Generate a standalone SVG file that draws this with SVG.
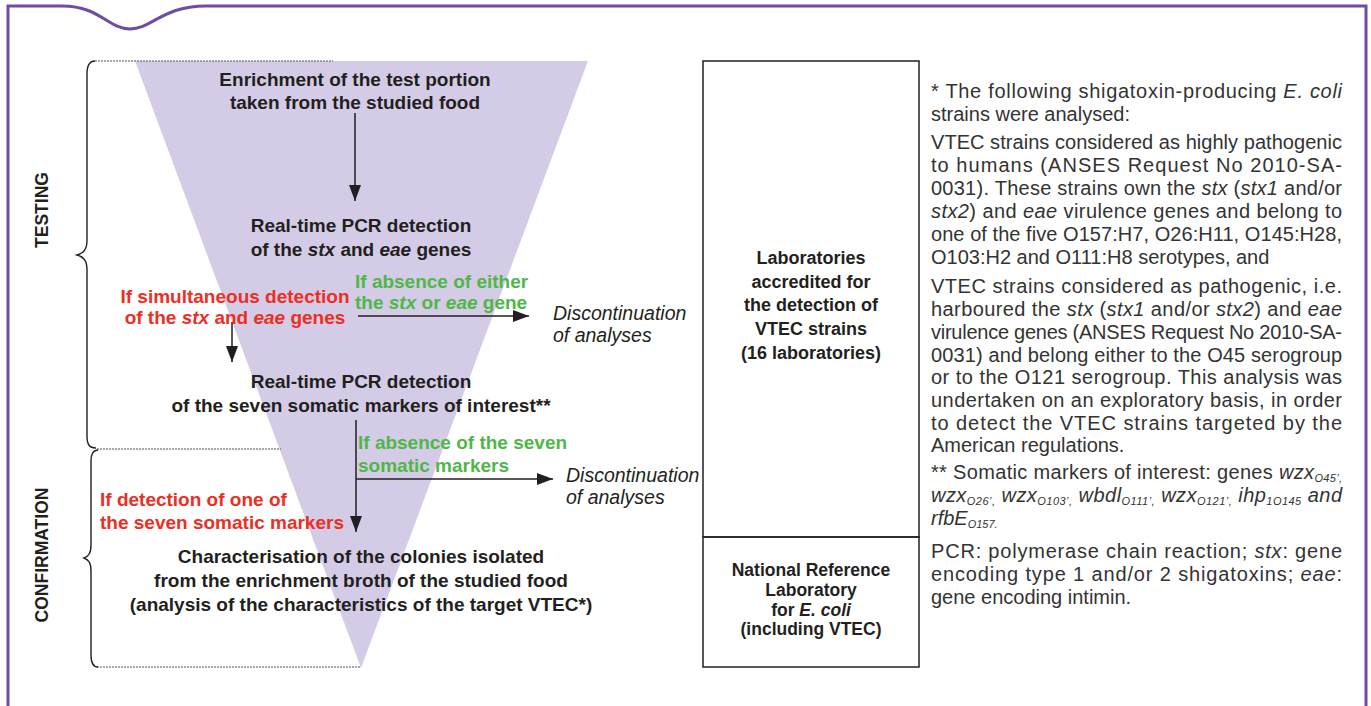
<svg xmlns="http://www.w3.org/2000/svg" width="1371" height="706" viewBox="0 0 1371 706">
<defs>
<marker id="ah" viewBox="0 0 16 12" markerUnits="userSpaceOnUse" markerWidth="16" markerHeight="12" refX="16" refY="6" orient="auto">
<path d="M0,0 L16,6 L0,12 z" fill="#231f20"/>
</marker>
</defs>
<style>
.b{font-family:"Liberation Sans",Arial,sans-serif;font-weight:bold;font-size:19px;fill:#231f20}
.bx{font-family:"Liberation Sans",Arial,sans-serif;font-weight:bold;font-size:18px;fill:#231f20;text-anchor:middle}
.bs{font-size:17.5px}
.red{fill:#ee2e24}
.grn{fill:#4fb747}
.it{font-style:italic}
.dis{font-family:"Liberation Sans",Arial,sans-serif;font-style:italic;font-size:19.5px;fill:#231f20}
.m{text-anchor:middle}
.side{font-family:"Liberation Sans",Arial,sans-serif;font-weight:bold;font-size:17.5px;fill:#231f20;text-anchor:middle;dominant-baseline:central}
.r{font-family:"Liberation Sans",Arial,sans-serif;font-size:20px;fill:#333333}
.sub{font-size:11px}
.dot{stroke:#555;stroke-width:1;stroke-dasharray:2 1;fill:none}
.brace{stroke:#231f20;stroke-width:1.4;fill:none}
.conn{stroke:#231f20;stroke-width:1.5;fill:none}
</style>
<g id="frame">
<path d="M8,706 L8,6 L62,6 C100,6 108,29 130,29 C152,29 162,6 206,6 L1366,6 L1366,706" fill="none" stroke="#6f4ba3" stroke-width="3"/>
</g>
<g id="funnel">
<polygon points="135,61 588,61 361,668" fill="#d4cce6"/>
</g>
<g id="brackets">
<path class="dot" d="M95,61 L333,61"/>
<path class="dot" d="M97,449 L281,449"/>
<path class="dot" d="M97,667 L361,667"/>
<path class="brace" d="M95,61 C89,61 87,66 87,74 L87,240 C87,249 84,253 77,255 C84,257 87,261 87,270 L87,436 C87,444 89,448 96,448"/>
<path class="brace" d="M98,450 C93,450 91,454 91,461 L91,545 C91,553 89,556 84,558 C89,560 91,563 91,571 L91,655 C91,662 93,667 98,667"/>
<text class="side" transform="translate(42,210) rotate(-90)">TESTING</text>
<text class="side" transform="translate(42,555) rotate(-90)">CONFIRMATION</text>
</g>
<g id="connectors">
<line class="conn" x1="355" y1="113" x2="355" y2="201" marker-end="url(#ah)"/>
<line class="conn" x1="358" y1="316" x2="529" y2="316" marker-end="url(#ah)"/>
<line class="conn" x1="232" y1="322" x2="232" y2="362" marker-end="url(#ah)"/>
<line class="conn" x1="356" y1="420" x2="356" y2="532" marker-end="url(#ah)"/>
<line class="conn" x1="356" y1="479" x2="553" y2="479" marker-end="url(#ah)"/>
</g>
<g id="n-enrichment">
<text class="b m" x="355" y="86">Enrichment of the test portion</text>
<text class="b m" x="355" y="109">taken from the studied food</text>
</g>
<g id="n-pcr1">
<text class="b m" x="361" y="232">Real-time PCR detection</text>
<text class="b m" x="361" y="256">of the <tspan class="it">stx</tspan> and <tspan class="it">eae</tspan> genes</text>
</g>
<g id="n-absence1">
<text class="b grn" x="355" y="287.5">If absence of either</text>
<text class="b grn" x="355" y="309">the <tspan class="it">stx</tspan> or <tspan class="it">eae</tspan> gene</text>
</g>
<g id="n-simul">
<text class="b red m" x="235" y="302.5">If simultaneous detection</text>
<text class="b red m" x="235" y="324">of the <tspan class="it">stx</tspan> and <tspan class="it">eae</tspan> genes</text>
</g>
<g id="n-disc1">
<text class="dis" x="553" y="320">Discontinuation</text>
<text class="dis" x="553" y="342">of analyses</text>
</g>
<g id="n-pcr2">
<text class="b m" x="361" y="388">Real-time PCR detection</text>
<text class="b m" x="361" y="412">of the seven somatic markers of interest**</text>
</g>
<g id="n-absence2">
<text class="b grn" x="358" y="449">If absence of the seven</text>
<text class="b grn" x="358" y="472">somatic markers</text>
</g>
<g id="n-disc2">
<text class="dis" x="566" y="482">Discontinuation</text>
<text class="dis" x="566" y="504">of analyses</text>
</g>
<g id="n-detection">
<text class="b red" x="100" y="506">If detection of one of</text>
<text class="b red" x="100" y="529">the seven somatic markers</text>
</g>
<g id="n-characterisation">
<text class="b m" x="361" y="563">Characterisation of the colonies isolated</text>
<text class="b m" x="361" y="587">from the enrichment broth of the studied food</text>
<text class="b m" x="361" y="611">(analysis of the characteristics of the target VTEC*)</text>
</g>
<g id="n-labs">
<rect x="703" y="61" width="216" height="476" fill="none" stroke="#231f20" stroke-width="1.5"/>
<text class="bx" x="811" y="264">Laboratories</text>
<text class="bx" x="811" y="288">accredited for</text>
<text class="bx" x="811" y="311">the detection of</text>
<text class="bx" x="811" y="335">VTEC strains</text>
<text class="bx" x="811" y="359">(16 laboratories)</text>
</g>
<g id="n-nrl">
<rect x="703" y="537" width="216" height="130" fill="none" stroke="#231f20" stroke-width="1.5"/>
<text class="bx bs" x="811" y="576">National Reference</text>
<text class="bx bs" x="811" y="596">Laboratory</text>
<text class="bx bs" x="811" y="615.5">for <tspan class="it">E. coli</tspan></text>
<text class="bx bs" x="811" y="635">(including VTEC)</text>
</g>
<g id="notes">
<text class="r" x="931" y="98" textLength="411" lengthAdjust="spacing">* The following shigatoxin-producing <tspan class="it">E. coli</tspan></text>
<text class="r" x="931" y="120.5">strains were analysed:</text>
<text class="r" x="931" y="149" textLength="411" lengthAdjust="spacing">VTEC strains considered as highly pathogenic</text>
<text class="r" x="931" y="172" textLength="411" lengthAdjust="spacing">to humans (ANSES Request No 2010-SA-</text>
<text class="r" x="931" y="195" textLength="411" lengthAdjust="spacing">0031). These strains own the <tspan class="it">stx</tspan> (<tspan class="it">stx1</tspan> and/or</text>
<text class="r" x="931" y="218" textLength="411" lengthAdjust="spacing"><tspan class="it">stx2</tspan>) and <tspan class="it">eae</tspan> virulence genes and belong to</text>
<text class="r" x="931" y="241" textLength="411" lengthAdjust="spacing">one of the five O157:H7, O26:H11, O145:H28,</text>
<text class="r" x="931" y="264">O103:H2 and O111:H8 serotypes, and</text>
<text class="r" x="931" y="293" textLength="411" lengthAdjust="spacing">VTEC strains considered as pathogenic, i.e.</text>
<text class="r" x="931" y="316" textLength="411" lengthAdjust="spacing">harboured the <tspan class="it">stx</tspan> (<tspan class="it">stx1</tspan> and/or <tspan class="it">stx2</tspan>) and <tspan class="it">eae</tspan></text>
<text class="r" x="931" y="339" textLength="411" lengthAdjust="spacing">virulence genes (ANSES Request No 2010-SA-</text>
<text class="r" x="931" y="361.5" textLength="411" lengthAdjust="spacing">0031) and belong either to the O45 serogroup</text>
<text class="r" x="931" y="384" textLength="411" lengthAdjust="spacing">or to the O121 serogroup. This analysis was</text>
<text class="r" x="931" y="407" textLength="411" lengthAdjust="spacing">undertaken on an exploratory basis, in order</text>
<text class="r" x="931" y="429.5" textLength="411" lengthAdjust="spacing">to detect the VTEC strains targeted by the</text>
<text class="r" x="931" y="452">American regulations.</text>
<text class="r" x="931" y="479" textLength="411" lengthAdjust="spacing">** Somatic markers of interest: genes <tspan class="it">wzx</tspan><tspan class="it sub" dy="2.5">O45’,</tspan></text>
<text class="r it" x="931" y="502" textLength="411" lengthAdjust="spacing">wzx<tspan class="sub" dy="2.5">O26’,</tspan><tspan dy="-2.5"> wzx</tspan><tspan class="sub" dy="2.5">O103’,</tspan><tspan dy="-2.5"> wbdl</tspan><tspan class="sub" dy="2.5">O111’,</tspan><tspan dy="-2.5"> wzx</tspan><tspan class="sub" dy="2.5">O121’,</tspan><tspan dy="-2.5"> ihp</tspan><tspan class="sub" dy="2.5">1O145</tspan><tspan dy="-2.5"> and</tspan></text>
<text class="r it" x="931" y="525">rfbE<tspan class="sub" dy="2.5">O157.</tspan></text>
<text class="r" x="931" y="558" textLength="411" lengthAdjust="spacing">PCR: polymerase chain reaction; <tspan class="it">stx</tspan>: gene</text>
<text class="r" x="931" y="581" textLength="411" lengthAdjust="spacing">encoding type 1 and/or 2 shigatoxins; <tspan class="it">eae</tspan>:</text>
<text class="r" x="931" y="603.5">gene encoding intimin.</text>
</g>
</svg>
